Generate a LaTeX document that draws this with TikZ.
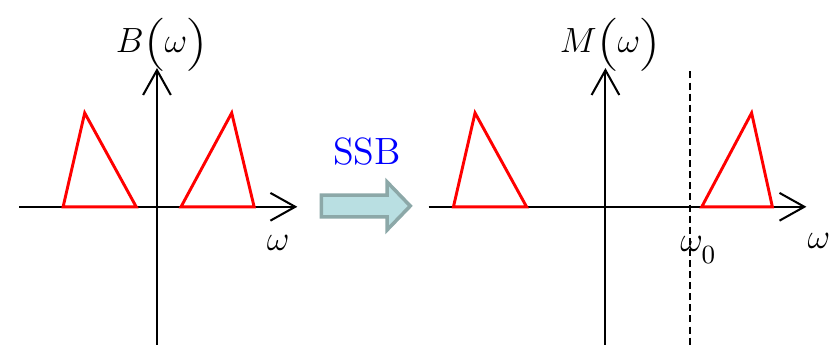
\documentclass[tikz,border=0pt]{standalone}
\usepackage{amsmath,graphicx}
\usetikzlibrary{arrows.meta,positioning,calc}
\definecolor{ssbfill}{HTML}{B9DFE2}
\definecolor{ssbedge}{HTML}{8CA8A8}
\newcommand{\spar}[1]{\mathopen{\scalebox{1}[.84]{$\Bigl($}}#1\mathclose{\scalebox{1}[.84]{$\Bigr)$}}}
\tikzset{
  axis/.style={line width=.7pt,-{Straight Barb[length=8.5pt,width=9.5pt]}},
  band/.style={red,line width=1pt,line join=miter},
  spec/.style={inner sep=1pt},
}

\begin{document}
\begin{tikzpicture}[font=\fontsize{13}{16}\selectfont]
      \useasboundingbox (-1.89,-1.70) rectangle (8.20,2.49);

      % baseband spectrum
      \draw[axis] (-1.66,0) -- (1.69,0);
      \draw[axis] (0,-1.66) -- (0,1.67);
      \draw[band] (-1.13,0) -- (-0.87,1.13) -- (-0.25,0) -- cycle;
      \draw[band] (0.29,0) -- (0.90,1.13) -- (1.17,0) -- cycle;
      \node[spec] (Blab) at (0.06,1.95) {$B\spar{\omega}$};
      \node (wB) at (1.46,-0.43) {$\omega$};

      % modulation arrow
      \draw[ssbedge,fill=ssbfill,line width=1.2pt,line join=miter]
        (1.98,0.14) -- (2.77,0.14) -- (2.77,0.30) -- (3.05,0.01)
        -- (2.77,-0.28) -- (2.77,-0.12) -- (1.98,-0.12) -- cycle;
      \node[blue] (ssb) at (2.53,0.66) {SSB};

      \begin{scope}[xshift=5.40cm]
        \draw[axis] (-2.13,0) -- (2.42,0);
        \draw[axis] (0,-1.66) -- (0,1.67);
        \draw[line width=.5pt,dash pattern=on 2.4pt off 1.4pt] (1.02,1.63) -- (1.02,-1.72);
        \draw[band] (-1.83,0) -- (-1.57,1.13) -- (-0.95,0) -- cycle;
        \draw[band] (1.16,0) -- (1.76,1.13) -- (2.01,0) -- cycle;
        \node[spec] (Mlab) at (0.06,1.95) {$M\spar{\omega}$};
        \node (w0) at (1.12,-0.52) {$\omega_{\lower2pt\hbox{$\scriptstyle 0$}}$};
        \node (wM) at (2.57,-0.41) {$\omega$};
      \end{scope}
    \end{tikzpicture}
\end{document}
